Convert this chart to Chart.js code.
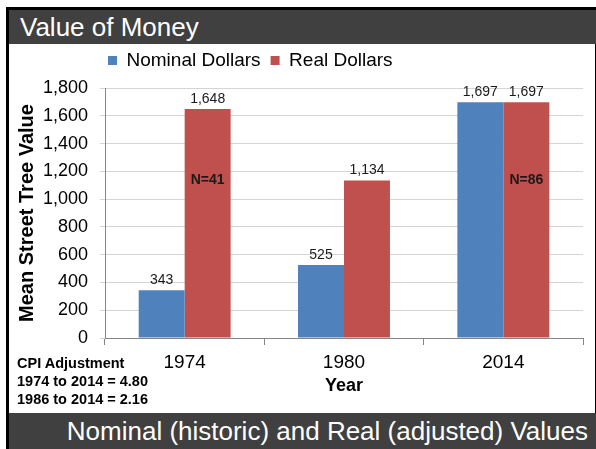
<!DOCTYPE html>
<html>
<head>
<meta charset="utf-8">
<title>Value of Money</title>
<script src="https://cdn.jsdelivr.net/npm/chart.js@4.4.0/dist/chart.umd.min.js"></script>
<style>
    html, body { margin: 0; padding: 0; background: #fff; }
    body { font-family: 'Liberation Sans', Arial, sans-serif; }
    #slide { position: relative; width: 596px; height: 449px; overflow: hidden; background: #fff; }
    #frame {
        position: absolute; left: 6px; top: 7px; width: 590px; height: 442px;
        box-sizing: border-box;
        border-left: 3px solid #000; border-top: 3px solid #000; border-right: 1px solid #000;
    }
    .band {
        position: absolute; left: 9px; width: 587px; box-sizing: border-box;
        background: #404040; color: #fff; font-size: 26px; white-space: nowrap;
    }
    #header { top: 10px; height: 34px; line-height: 34px; padding-left: 11px; }
    #footer { top: 413px; height: 36px; line-height: 36px; text-align: right; padding-right: 8px; }
    #chartBox { position: absolute; left: 9px; top: 44px; width: 581px; height: 369px; }
    #cpi {
        position: absolute; left: 17px; top: 354px;
        font-size: 14.5px; font-weight: bold; line-height: 18px; color: #000;
    }
</style>
</head>
<body>
<div id="slide">
    <div id="frame"></div>
    <div id="header" class="band">Value of Money</div>
    <div id="chartBox"><canvas id="chart"></canvas></div>
    <div id="cpi">CPI Adjustment<br>1974 to 2014 = 4.80<br>1986 to 2014 = 2.16</div>
    <div id="footer" class="band">Nominal (historic) and Real (adjusted) Values</div>
</div>
<script>
const years = ['1974', '1980', '2014']
const nominalDollars = [343, 525, 1697]
const realDollars = [1648, 1134, 1697]
// sample size notes sit inside the real-dollar bars
const sampleSizes = ['N=41', '', 'N=86']
const sampleLabelLevel = 1135

Chart.defaults.font.family = '"Liberation Sans", Arial, sans-serif'
Chart.defaults.color = '#000'

const barValueLabels = {
    id: 'barValueLabels',
    afterDatasetsDraw(chart) {
        const ctx = chart.ctx
        ctx.save()
        ctx.fillStyle = '#1a1a1a'
        ctx.textAlign = 'center'
        ctx.textBaseline = 'bottom'
        ctx.font = '14px "Liberation Sans", Arial, sans-serif'
        chart.data.datasets.forEach((ds, i) => {
            chart.getDatasetMeta(i).data.forEach((bar, j) => {
                ctx.fillText(ds.data[j].toLocaleString('en-US'), bar.x, bar.y - 3)
            })
        })
        ctx.font = 'bold 14px "Liberation Sans", Arial, sans-serif'
        ctx.textBaseline = 'middle'
        const y = chart.scales.y.getPixelForValue(sampleLabelLevel)
        chart.getDatasetMeta(1).data.forEach((bar, j) => {
            if (sampleSizes[j]) ctx.fillText(sampleSizes[j], bar.x, y)
        })
        ctx.restore()
    }
}

// legend sits left of centre and a bit higher than chart.js puts it
const legendShift = {
    id: 'legendShift',
    afterLayout(chart) {
        chart.legend.left += 89
        chart.legend.top -= 8
    }
}

new Chart(document.getElementById('chart').getContext('2d'), {
    type: 'bar',
    data: {
        labels: years,
        datasets: [
            {
                label: 'Nominal Dollars',
                data: nominalDollars,
                backgroundColor: '#4F81BD',
                categoryPercentage: 0.577,
                barPercentage: 1
            },
            {
                label: 'Real Dollars',
                data: realDollars,
                backgroundColor: '#C0504D',
                categoryPercentage: 0.577,
                barPercentage: 1
            }
        ]
    },
    options: {
        locale: 'en-US',
        animation: false,
        events: [],
        responsive: true,
        maintainAspectRatio: false,
        layout: { padding: { top: 5, right: 7, left: 0, bottom: 0 } },
        plugins: {
            legend: {
                position: 'top',
                align: 'start',
                labels: {
                    boxWidth: 9,
                    boxHeight: 9,
                    padding: 10,
                    color: '#000',
                    font: { size: 19 }
                }
            },
            tooltip: { enabled: false }
        },
        scales: {
            x: {
                ticks: { color: '#000', font: { size: 19 }, padding: 6 },
                grid: { offset: true, drawOnChartArea: false, tickLength: 7, color: '#868686' },
                border: { color: '#868686' },
                title: {
                    display: true,
                    text: 'Year',
                    color: '#000',
                    font: { size: 18, weight: 'bold' },
                    padding: { top: 0, bottom: 16 }
                },
                afterFit(scale) { scale.height = 75 }
            },
            y: {
                min: 0,
                max: 1800,
                ticks: { stepSize: 200, color: '#000', font: { size: 18 }, padding: 12 },
                grid: { color: '#d4d4d4', tickLength: 5 },
                border: { color: '#868686' },
                title: {
                    display: true,
                    text: 'Mean Street Tree Value',
                    color: '#000',
                    font: { size: 20, weight: 'bold' },
                    padding: { top: 6, bottom: 0 }
                },
                afterFit(scale) { scale.width = 96 }
            }
        }
    },
    plugins: [barValueLabels, legendShift]
})
</script>
</body>
</html>
